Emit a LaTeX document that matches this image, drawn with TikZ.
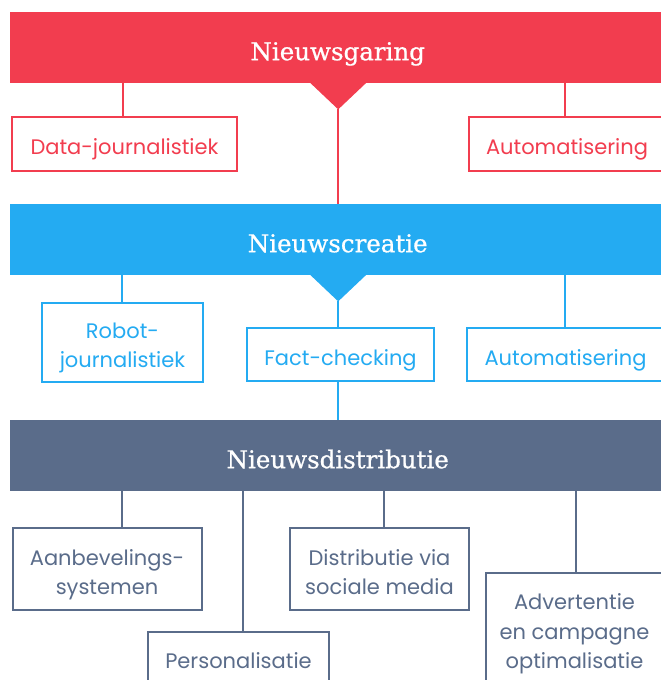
\documentclass[tikz,border=0pt]{standalone}
\usepackage{fontspec}
\setmainfont{Poppins}
\newfontfamily\headfont[FakeBold=0.8]{DejaVu Serif}
\usetikzlibrary{calc}
\definecolor{cred}{HTML}{F23D4F}
\definecolor{cblue}{HTML}{24ABF2}
\definecolor{cslate}{HTML}{5A6C8A}
\newcommand\bxt[1]{\raisebox{-5pt}[\height][\depth]{\begin{tabular}{@{}c@{}}#1\end{tabular}}}
\begin{document}
\begin{tikzpicture}[x=1pt,y=-1pt,
  band/.style={anchor=north west, minimum width=655, minimum height=71, inner sep=0pt,
    text height=31pt, text depth=6pt,
    text=white, font=\headfont\fontsize{24.5}{29}\selectfont},
  itembox/.style={draw=#1, text=#1, line width=2pt, anchor=north west, inner sep=0pt,
    fill=white, font=\fontsize{21}{29.5}\selectfont},
  conn/.style={line width=2pt}]
\useasboundingbox (0,0) rectangle (661,680);

% bands
\node[band, fill=cred] (ng) at (10,12) {Nieuwsgaring};
\node[band, fill=cblue] (nc) at (10,204) {Nieuwscreatie};
\node[band, fill=cslate] (nd) at (10,420) {Nieuwsdistributie};

% triangles
\fill[cred] ($(ng.south)+(-28,-1)$) -- ($(ng.south)+(29,-1)$) -- ($(ng.south)+(0.5,26)$) coordinate (ngtip) -- cycle;
\fill[cblue] ($(nc.south)+(-28,-1)$) -- ($(nc.south)+(29,-1)$) -- ($(nc.south)+(0.5,26)$) coordinate (nctip) -- cycle;

% red items
\node[itembox=cred, minimum width=225, minimum height=54] (dj) at (11,116) {\bxt{Data-journalistiek}};
\node[itembox=cred, minimum width=196, minimum height=54] (ra) at (468,116) {\bxt{Automatisering}};

% blue items
\node[itembox=cblue, minimum width=161, minimum height=79] (rj) at (41,301.5) {\bxt{Robot-\\journalistiek}};
\node[itembox=cblue, minimum width=187, minimum height=53] (fc) at (246,327) {\bxt{Fact-checking}};
\node[itembox=cblue, minimum width=197, minimum height=53] (ba) at (466,327) {\bxt{Automatisering}};

% slate items
\node[itembox=cslate, minimum width=189, minimum height=82] (ab) at (11.5,527) {\bxt{Aanbevelings-\\systemen}};
\node[itembox=cslate, minimum width=179, minimum height=82] (ds) at (289,527) {\bxt{Distributie via\\sociale media}};
\node[itembox=cslate, minimum width=181, minimum height=51] (ps) at (147,631) {\bxt{Personalisatie}};
\node[itembox=cslate, minimum width=177, minimum height=111] (ad) at (485,572) {\bxt{Advertentie\\en campagne\\optimalisatie}};

% connector x positions
\coordinate (xdj) at (123,0);
\coordinate (xra) at (565,0);
\coordinate (xrj) at (122,0);
\coordinate (xba) at (565,0);
\coordinate (xab) at (122,0);
\coordinate (xps) at (243,0);
\coordinate (xds) at (384,0);
\coordinate (xad) at (575.5,0);
\coordinate (xmid) at (338,0);

% connectors
\draw[conn, cred] (ng.south -| xdj) -- (dj.north -| xdj);
\draw[conn, cred] (ng.south -| xra) -- (ra.north -| xra);
\draw[conn, cred] (ngtip -| xmid) -- (nc.north -| xmid);

\draw[conn, cblue] (nc.south -| xrj) -- (rj.north -| xrj);
\draw[conn, cblue] (nc.south -| xba) -- (ba.north -| xba);
\draw[conn, cblue] (nctip -| xmid) -- (fc.north -| xmid);
\draw[conn, cblue] (fc.south -| xmid) -- (nd.north -| xmid);

\draw[conn, cslate] (nd.south -| xab) -- (ab.north -| xab);
\draw[conn, cslate] (nd.south -| xps) -- (ps.north -| xps);
\draw[conn, cslate] (nd.south -| xds) -- (ds.north -| xds);
\draw[conn, cslate] (nd.south -| xad) -- (ad.north -| xad);
\end{tikzpicture}
\end{document}
